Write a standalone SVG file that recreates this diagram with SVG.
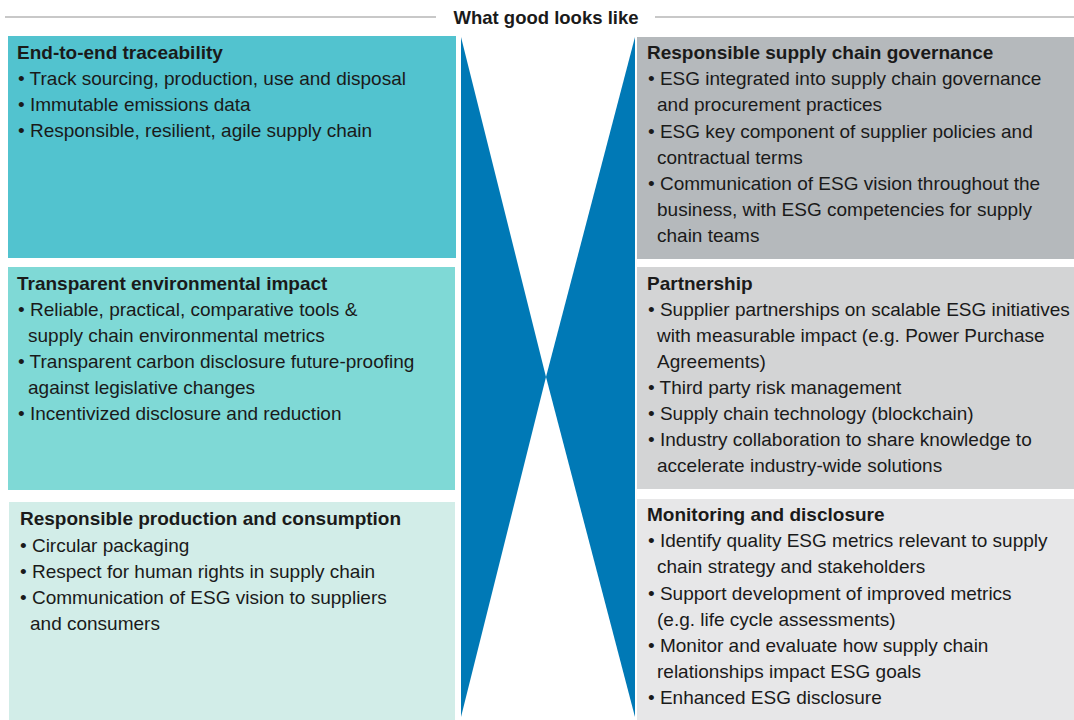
<svg xmlns="http://www.w3.org/2000/svg" width="1074" height="720" viewBox="0 0 1074 720">
<style>
text{font-family:"Liberation Sans",Arial,sans-serif;font-size:19px;fill:#1a1a1a}
.t{font-weight:bold}
.h{font-weight:bold;font-size:18.5px;text-anchor:middle}
.rule{stroke:#c8c8c8;stroke-width:2}
</style>
<rect width="1074" height="720" fill="#ffffff"/>
<g id="header">
<line class="rule" x1="5" y1="17" x2="436" y2="17"/>
<line class="rule" x1="655" y1="17" x2="1074" y2="17"/>
<text class="h" x="546" y="24">What good looks like</text>
</g>
<g id="center-x">
<polygon points="461,37 546,377 461,717" fill="#0079b6"/>
<polygon points="635,37 546,377 635,717" fill="#0079b6"/>
</g>
<g id="connectors"/>
<g id="end-to-end-traceability">
<rect x="8" y="36" width="448" height="222" fill="#52c3cf"/>
<text class="t" x="17" y="59">End-to-end traceability</text>
<text x="18" y="85">• Track sourcing, production, use and disposal</text>
<text x="18" y="111">• Immutable emissions data</text>
<text x="18" y="137">• Responsible, resilient, agile supply chain</text>
</g>
<g id="transparent-environmental-impact">
<rect x="8" y="267" width="447" height="223" fill="#7fd9d6"/>
<text class="t" x="17" y="290">Transparent environmental impact</text>
<text x="18" y="316">• Reliable, practical, comparative tools &amp;</text>
<text x="28" y="342">supply chain environmental metrics</text>
<text x="18" y="368">• Transparent carbon disclosure future-proofing</text>
<text x="28" y="394">against legislative changes</text>
<text x="18" y="420">• Incentivized disclosure and reduction</text>
</g>
<g id="responsible-production-and-consumption">
<rect x="9" y="502" width="446" height="218" fill="#d2ede8"/>
<text class="t" x="20" y="525">Responsible production and consumption</text>
<text x="20" y="552">• Circular packaging</text>
<text x="20" y="578">• Respect for human rights in supply chain</text>
<text x="20" y="604">• Communication of ESG vision to suppliers</text>
<text x="30" y="630">and consumers</text>
</g>
<g id="responsible-supply-chain-governance">
<rect x="637" y="37" width="437" height="222" fill="#b5b9bc"/>
<text class="t" x="647" y="59">Responsible supply chain governance</text>
<text x="648" y="85">• ESG integrated into supply chain governance</text>
<text x="657" y="111">and procurement practices</text>
<text x="648" y="138">• ESG key component of supplier policies and</text>
<text x="657" y="164">contractual terms</text>
<text x="648" y="190">• Communication of ESG vision throughout the</text>
<text x="657" y="216">business, with ESG competencies for supply</text>
<text x="657" y="242">chain teams</text>
</g>
<g id="partnership">
<rect x="637" y="267" width="437" height="222" fill="#d3d4d5"/>
<text class="t" x="647" y="290">Partnership</text>
<text x="648" y="316">• Supplier partnerships on scalable ESG initiatives</text>
<text x="657" y="342">with measurable impact (e.g. Power Purchase</text>
<text x="657" y="368">Agreements)</text>
<text x="648" y="394">• Third party risk management</text>
<text x="648" y="420">• Supply chain technology (blockchain)</text>
<text x="648" y="446">• Industry collaboration to share knowledge to</text>
<text x="657" y="472">accelerate industry-wide solutions</text>
</g>
<g id="monitoring-and-disclosure">
<rect x="637" y="499" width="437" height="221" fill="#e7e7e8"/>
<text class="t" x="647" y="521">Monitoring and disclosure</text>
<text x="648" y="547">• Identify quality ESG metrics relevant to supply</text>
<text x="657" y="573">chain strategy and stakeholders</text>
<text x="648" y="600">• Support development of improved metrics</text>
<text x="657" y="626">(e.g. life cycle assessments)</text>
<text x="648" y="652">• Monitor and evaluate how supply chain</text>
<text x="657" y="678">relationships impact ESG goals</text>
<text x="648" y="704">• Enhanced ESG disclosure</text>
</g>
</svg>
